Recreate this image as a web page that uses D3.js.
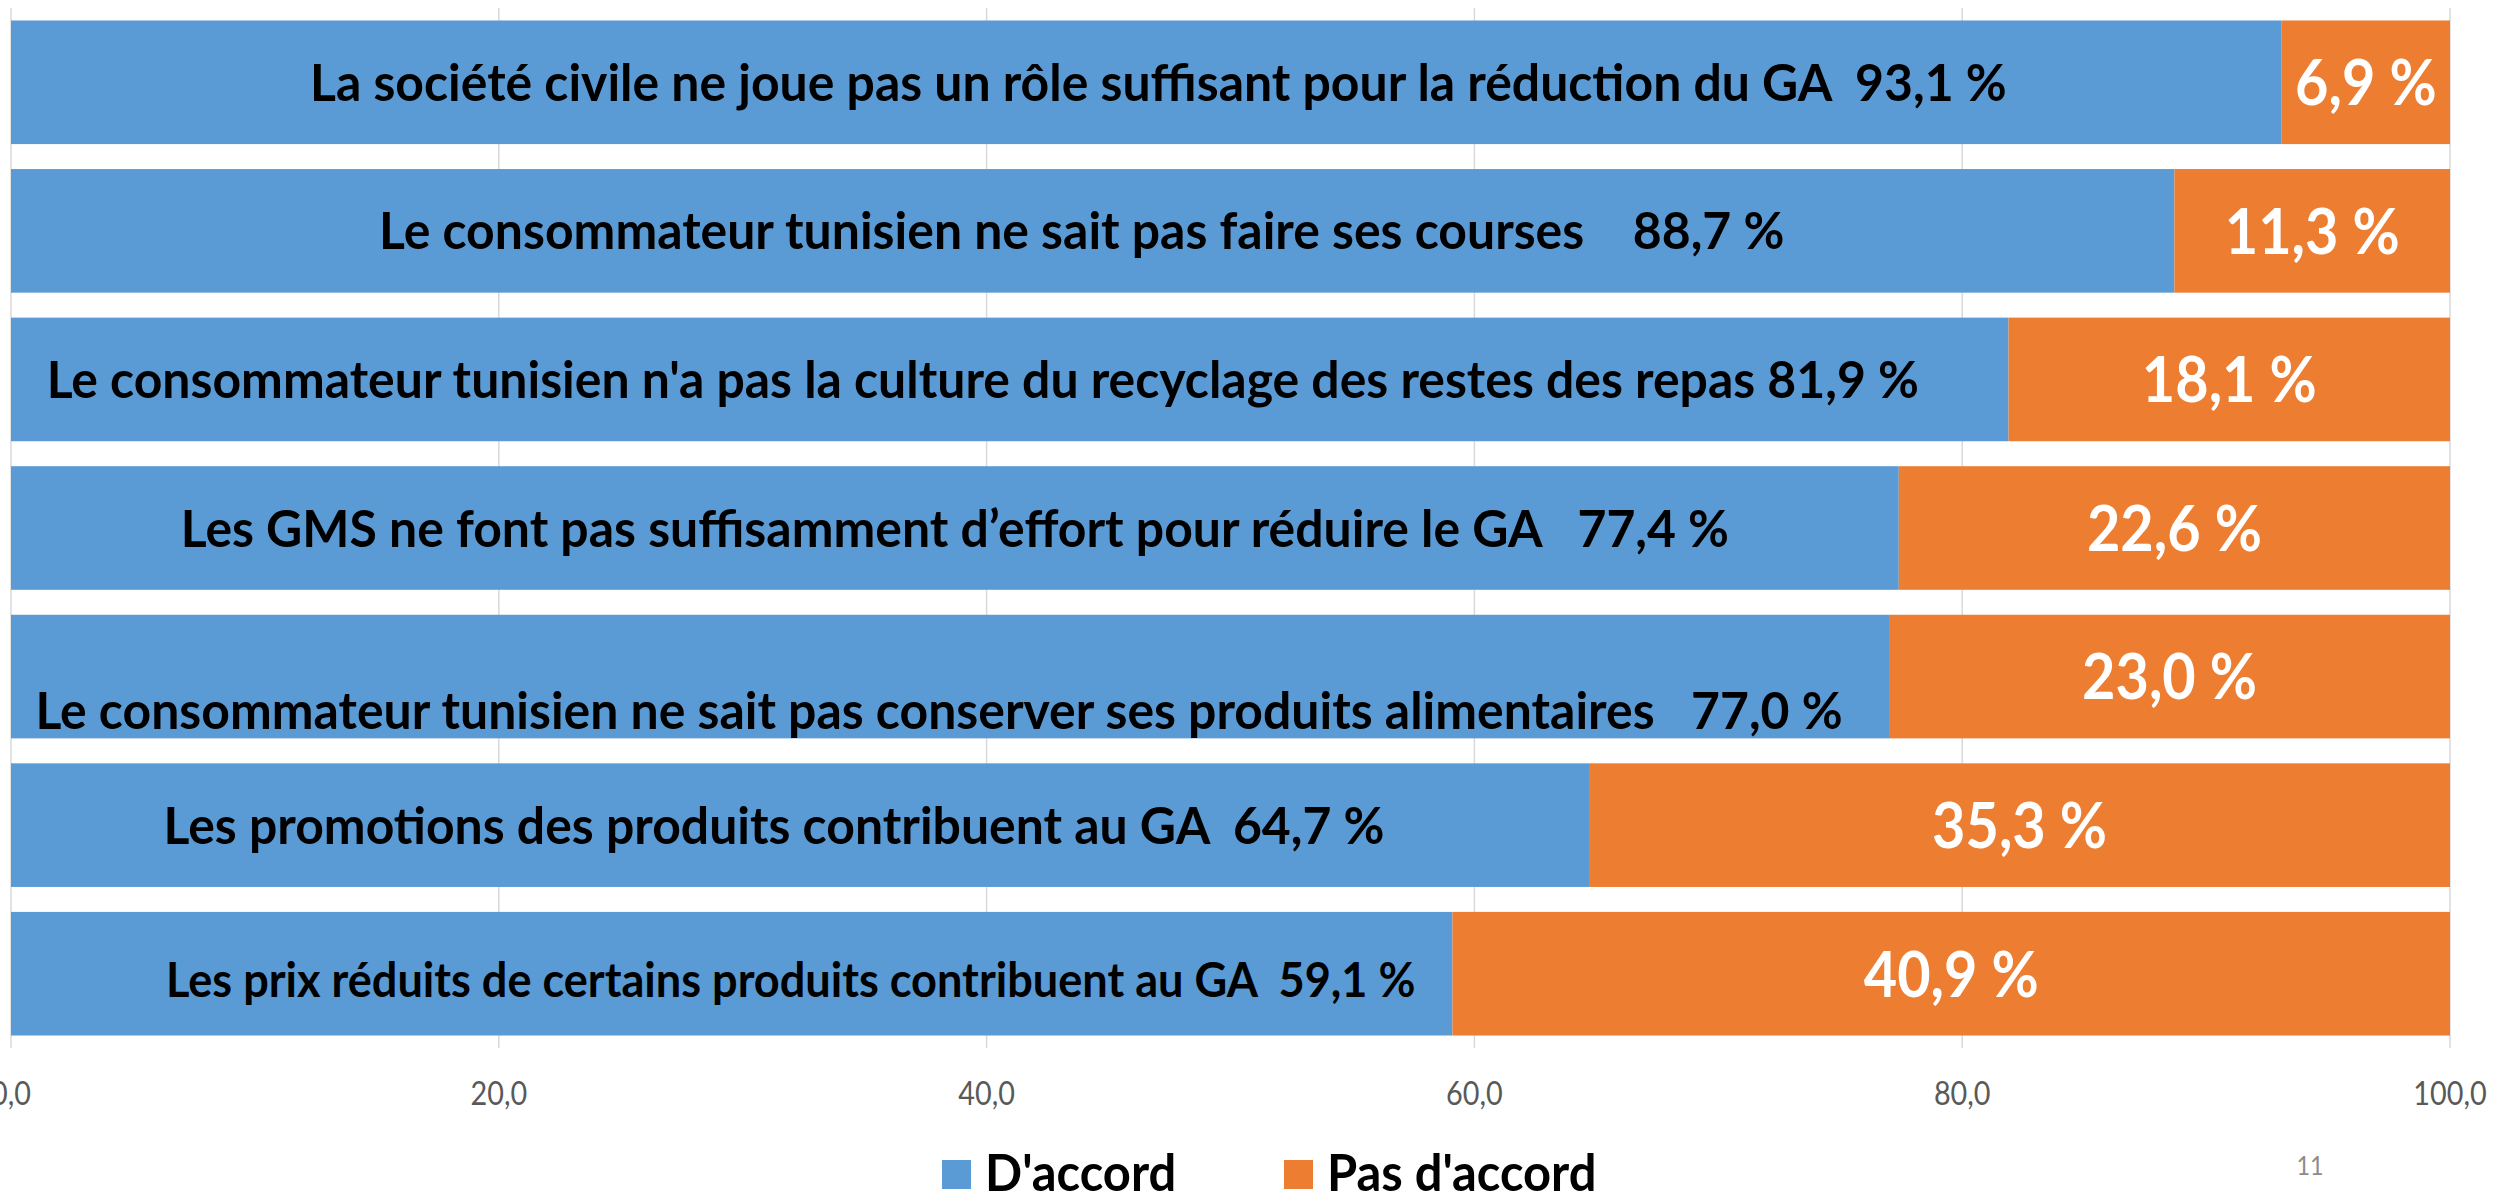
<!DOCTYPE html>
<html>
<head>
<meta charset="utf-8">
<script src="https://cdn.jsdelivr.net/npm/d3@7"></script>
<style>
  html, body { margin: 0; padding: 0; background: #fff; }
  svg { display: block; }
  text { white-space: pre; font-family: Lato, "Open Sans", sans-serif; }
</style>
</head>
<body>
<svg id="chart"></svg>
<script>
// Stacked 100% horizontal bars: agree / disagree

const categories = [
  "La société civile ne joue pas un rôle suffisant pour la réduction du GA  ",
  "Le consommateur tunisien ne sait pas faire ses courses    ",
  "Le consommateur tunisien n'a pas la culture du recyclage des restes des repas ",
  "Les GMS ne font pas suffisamment d’effort pour réduire le GA   ",
  "Le consommateur tunisien ne sait pas conserver ses produits alimentaires   ",
  "Les promotions des produits contribuent au GA  ",
  "Les prix réduits de certains produits contribuent au GA  "
];
const agree    = [93.1, 88.7, 81.9, 77.4, 77.0, 64.7, 59.1];
const disagree = [6.9, 11.3, 18.1, 22.6, 23.0, 35.3, 40.9];
const seriesNames = ["D'accord", "Pas d'accord"];
const xTicks = [0, 20, 40, 60, 80, 100];
const pageNumber = "11";

// layout / style
const W = 2501, H = 1194;
const colors = ["#5B9BD5", "#ED7D31"];
const labelSize = [52, 52, 52, 52, 52, 52, 47];
const labelNudge = [[12, 0], [-11, 0], [-27, 0], [0, 0], [-11, 34], [-26, 0], [59, 6]];

const pct = v => d3.format(".1f")(v).replace(".", ",") + " %";
const tick = v => d3.format(".1f")(v).replace(".", ",");

const svg = d3.select('#chart').attr('width', W).attr('height', H);

const x = d3.scaleLinear().domain([0, 100]).range([11, 2450]);
const y = d3.scaleBand()
  .domain(d3.range(categories.length))
  .range([8, 1048])
  .paddingInner(0.168)
  .paddingOuter(0.084);

// gridlines
svg.append('g')
  .selectAll('line')
  .data(xTicks)
  .join('line')
    .attr('x1', d => x(d)).attr('x2', d => x(d))
    .attr('y1', 8).attr('y2', 1048)
    .attr('stroke', '#d9d9d9')
    .attr('stroke-width', 1.5);

// stacked data
const rows = categories.map((c, i) => ({ i, name: c, agree: agree[i], disagree: disagree[i] }));
const stack = d3.stack().keys(['agree', 'disagree'])(rows);

svg.append('g')
  .selectAll('g')
  .data(stack)
  .join('g')
    .attr('fill', (d, k) => colors[k])
  .selectAll('rect')
  .data(d => d)
  .join('rect')
    .attr('x', d => x(d[0]))
    .attr('width', d => x(d[1]) - x(d[0]))
    .attr('y', d => y(d.data.i))
    .attr('height', y.bandwidth());

// Lato squeezed horizontally to get closer to Calibri proportions
function squishedText(parent, cx, cy, str, size, opts) {
  const sx = opts.sx || 0.9;
  const g = parent.append('g')
    .attr('transform', `translate(${cx},${cy}) scale(${sx},1)`);
  return g.append('text')
    .attr('text-anchor', opts.anchor || 'middle')
    .attr('y', size * 0.358)
    .attr('font-size', size)
    .attr('font-weight', opts.weight || 'normal')
    .attr('fill', opts.fill || '#000')
    .text(str);
}

// labels inside bars
const labels = svg.append('g');
rows.forEach((r, i) => {
  const cy = y(i) + y.bandwidth() / 2;
  const cxA = (x(0) + x(r.agree)) / 2 + labelNudge[i][0];
  squishedText(labels, cxA, cy + labelNudge[i][1], r.name + pct(r.agree), labelSize[i], { weight: 'bold', sx: 0.96 });
  const cxD = (x(r.agree) + x(100)) / 2;
  squishedText(labels, cxD, cy, pct(r.disagree), 64, { weight: 'bold', fill: '#fff' });
});

// x axis tick labels
const axisG = svg.append('g');
xTicks.forEach(t => squishedText(axisG, x(t), 1094, tick(t), 32, { fill: '#595959' }));

// legend
const legendX = [942, 1284];
const legend = svg.append('g');
seriesNames.forEach((s, k) => {
  legend.append('rect')
    .attr('x', legendX[k]).attr('y', 1160)
    .attr('width', 29).attr('height', 29)
    .attr('fill', colors[k]);
  squishedText(legend, legendX[k] + 43, 1172, s, 52, { anchor: 'start', weight: 'bold', sx: 0.94 });
});

// page number
squishedText(svg, 2310, 1166, pageNumber, 26, { fill: '#8c8c8c' });
</script>
</body>
</html>
